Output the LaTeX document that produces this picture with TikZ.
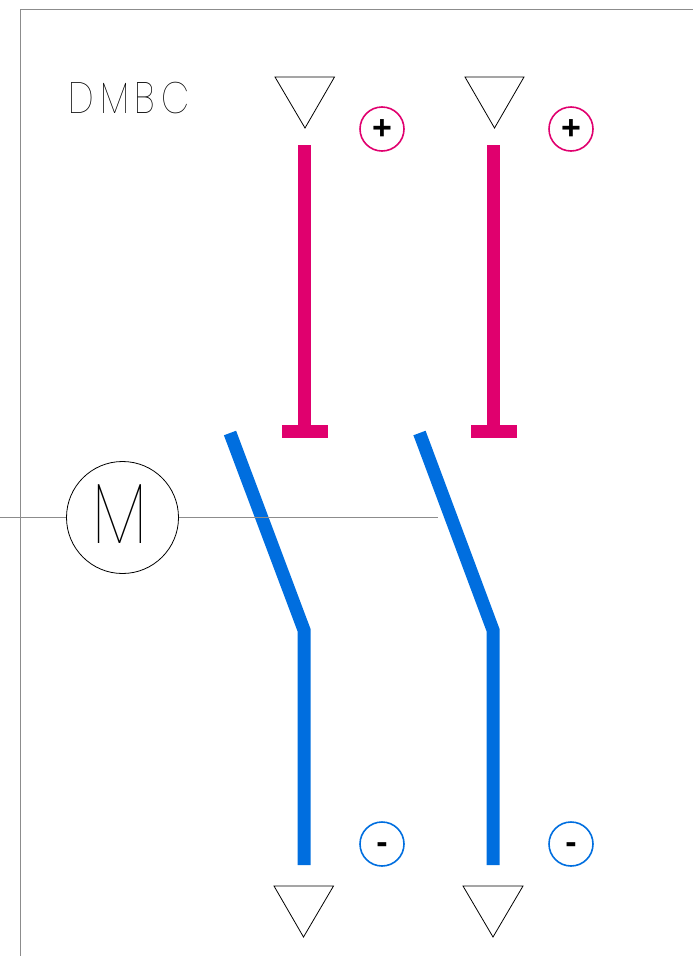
\documentclass[tikz,border=0pt]{standalone}
\usepackage{fontspec}
\setmainfont{Liberation Sans}
\newfontfamily\titlefont[UprightFont=* Thin,FakeStretch=0.83,LetterSpace=13]{Poppins}
\newfontfamily\motorfont[UprightFont=* Thin,FakeStretch=0.8]{Poppins}
\definecolor{pinkc}{HTML}{E0006E}
\definecolor{bluec}{HTML}{006EDF}
\definecolor{grayc}{HTML}{8C8C8C}
\tikzset{
  x=1pt,y=-1pt,
  frame/.style={draw=grayc,line width=1pt},
  thin black/.style={draw=black,line width=0.8pt,line join=miter},
  sign/.style={circle,draw=#1,line width=1.6pt,minimum size=44pt,inner sep=0pt,font=\bfseries\fontsize{34}{34}\selectfont},
  pole/.style={draw=#1,line width=13pt,line join=miter},
}
\begin{document}
\begin{tikzpicture}
\useasboundingbox (0,0) rectangle (693,956);
\draw[frame] (20,956) -- (20,9.5) -- (693,9.5);
% motor
\node[circle,draw=black,line width=0.8pt,minimum size=112pt,inner sep=0pt] (motor) at (122.5,517.5) {};
\node[inner sep=0pt,font=\motorfont\fontsize{86}{86}\selectfont] (mlabel) at (119.5,514) {M};
\coordinate (lin) at (0,517.5);
\coordinate (lout) at (438,517.5);
\draw[frame] (lin) -- (motor.west);
% switches
\draw[pole=bluec] (230,433) -- (304,630) -- (304,865);
\draw[pole=bluec] (419.5,433) -- (493,630) -- (493,865);
\draw[frame] (motor.east) -- (lout);
% pink contacts
\draw[pole=pinkc] (304.5,145) -- (304.5,432);
\draw[pole=pinkc] (282,431.5) -- (328,431.5);
\draw[pole=pinkc] (493.5,145) -- (493.5,432);
\draw[pole=pinkc] (471,431.5) -- (517,431.5);
% triangles
\draw[thin black] (275,77) -- (334.5,77) -- (305,128) -- cycle;
\draw[thin black] (465,77) -- (524,77) -- (494.5,128) -- cycle;
\draw[thin black] (274,886) -- (333.5,886) -- (303.5,937) -- cycle;
\draw[thin black] (463,886) -- (523,886) -- (493,937) -- cycle;
% signs
\node[sign=pinkc] (p1) at (382,129) {\smash{\raisebox{-10.5pt}{+}}};
\node[sign=pinkc] (p2) at (571,129) {\smash{\raisebox{-10.5pt}{+}}};
\node[sign=bluec] (m1) at (382,844) {\smash{\raisebox{-9.5pt}{-}}};
\node[sign=bluec] (m2) at (571,844) {\smash{\raisebox{-9.5pt}{-}}};
% label
\node[anchor=base west,inner sep=0pt,font=\titlefont\fontsize{44}{44}\selectfont] (title) at (68.5,113) {DMBC};
\end{tikzpicture}
\end{document}
